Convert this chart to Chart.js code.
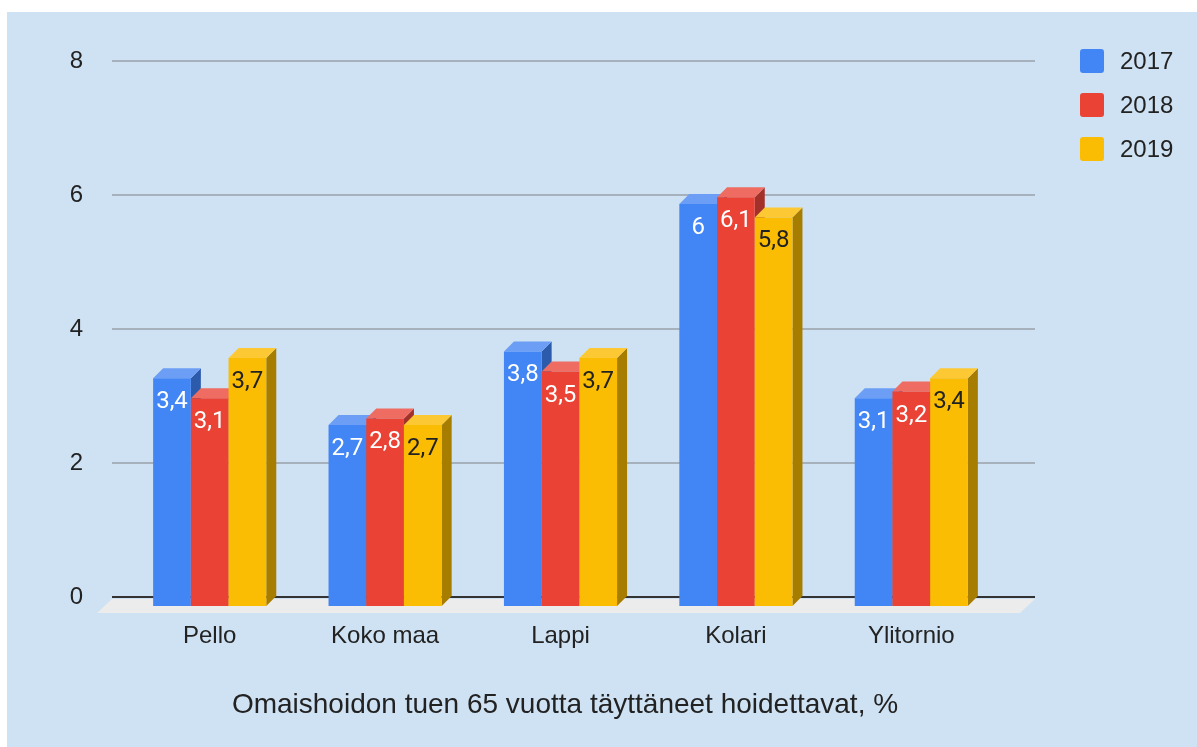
<!DOCTYPE html>
<html>
<head>
<meta charset="utf-8">
<script src="https://cdn.jsdelivr.net/npm/chart.js@4"></script>
<style>
  html, body { margin: 0; padding: 0; background: #fff; }
  #wrap { width: 1197px; height: 747px; }
</style>
</head>
<body>
<div id="wrap"><canvas id="chart" width="1197" height="747"></canvas></div>
<script>
// data
const categories = ['Pello', 'Koko maa', 'Lappi', 'Kolari', 'Ylitornio'];
const years = ['2017', '2018', '2019'];
const values2017 = [3.4, 2.7, 3.8, 6, 3.1];
const values2018 = [3.1, 2.8, 3.5, 6.1, 3.2];
const values2019 = [3.7, 2.7, 3.7, 5.8, 3.4];
const yTicks = [0, 2, 4, 6, 8];
const chartTitle = 'Omaishoidon tuen 65 vuotta täyttäneet hoidettavat, %';

// colours: front, top, side
const fronts = ['#4285f4', '#ea4335', '#fbbc04'];
const tops = ['#6c9ef6', '#ee6c61', '#fcc934'];
const sides = ['#2d5bab', '#a4302a', '#a77d00'];
const labelColors = ['#ffffff', '#ffffff', '#222222'];

const DY = 9;      // front plane shift
const DEPTH = 10;  // bar depth
const FONT = '"Liberation Sans", Arial, sans-serif';

const fmt = v => String(v).replace('.', ',');

const threeD = {
  id: 'threeD',
  beforeDraw(chart) {
    const ctx = chart.ctx;
    ctx.save();
    ctx.fillStyle = '#ffffff';
    ctx.fillRect(0, 0, chart.width, chart.height);
    ctx.fillStyle = '#cfe2f3';
    ctx.fillRect(7, 12, chart.width - 7, chart.height - 12);
    ctx.restore();
  },
  beforeDatasetsDraw(chart) {
    const ctx = chart.ctx;
    const a = chart.chartArea;
    const y = chart.scales.y;
    const x0 = a.left - 10, x1 = a.right + 36;
    const zero = y.getPixelForValue(0);
    ctx.save();
    // floor
    ctx.fillStyle = '#ececec';
    ctx.beginPath();
    ctx.moveTo(x0, zero + 2);
    ctx.lineTo(x1, zero + 2);
    ctx.lineTo(x1 - 15, zero + 16);
    ctx.lineTo(x0 - 15, zero + 16);
    ctx.closePath();
    ctx.fill();
    // grid
    yTicks.forEach(t => {
      const py = Math.round(y.getPixelForValue(t));
      ctx.strokeStyle = t === 0 ? '#333333' : '#a7b1bb';
      ctx.lineWidth = 2;
      ctx.beginPath();
      ctx.moveTo(x0, py);
      ctx.lineTo(x1, py);
      ctx.stroke();
    });
    ctx.restore();
  },
  // fronts are drawn below, in the right order with their 3D faces
  beforeDatasetDraw() {
    return false;
  },
  afterDatasetsDraw(chart) {
    const ctx = chart.ctx;
    ctx.save();
    ctx.translate(0, DY);
    chart.data.datasets.forEach((ds, i) => {
      chart.getDatasetMeta(i).data.forEach(bar => {
        const p = bar.getProps(['x', 'y', 'base', 'width'], true);
        const l = p.x - p.width / 2, r = p.x + p.width / 2;
        // side
        ctx.fillStyle = sides[i];
        ctx.beginPath();
        ctx.moveTo(r, p.y);
        ctx.lineTo(r + DEPTH, p.y - DEPTH);
        ctx.lineTo(r + DEPTH, p.base - DEPTH);
        ctx.lineTo(r, p.base);
        ctx.closePath();
        ctx.fill();
        // top
        ctx.fillStyle = tops[i];
        ctx.beginPath();
        ctx.moveTo(l, p.y);
        ctx.lineTo(l + DEPTH, p.y - DEPTH);
        ctx.lineTo(r + DEPTH, p.y - DEPTH);
        ctx.lineTo(r, p.y);
        ctx.closePath();
        ctx.fill();
        // front
        bar.draw(ctx, chart.chartArea);
      });
    });
    // value labels
    ctx.font = '24px Roboto';
    ctx.textAlign = 'center';
    ctx.textBaseline = 'middle';
    chart.data.datasets.forEach((ds, i) => {
      chart.getDatasetMeta(i).data.forEach((bar, j) => {
        const p = bar.getProps(['x', 'y'], true);
        ctx.fillStyle = labelColors[i];
        ctx.fillText(fmt(ds.data[j]), p.x, p.y + 24);
      });
    });
    ctx.restore();
  },
  afterDraw(chart) {
    const ctx = chart.ctx;
    ctx.save();
    // legend
    ctx.font = '24px ' + FONT;
    ctx.textBaseline = 'middle';
    ctx.textAlign = 'left';
    years.forEach((yr, i) => {
      const cy = 61 + i * 44;
      ctx.fillStyle = fronts[i];
      ctx.beginPath();
      ctx.roundRect(1080, cy - 12, 24, 24, 3);
      ctx.fill();
      ctx.fillStyle = '#222222';
      ctx.fillText(yr, 1120, cy + 1);
    });
    // title
    ctx.font = '28px ' + FONT;
    ctx.textAlign = 'center';
    ctx.fillText(chartTitle, 565, 705);
    ctx.restore();
  }
};

const datasets = [values2017, values2018, values2019].map((vals, i) => ({
  label: years[i],
  data: vals,
  backgroundColor: fronts[i],
  borderWidth: 0
}));

new Chart(document.getElementById('chart'), {
  type: 'bar',
  data: { labels: categories, datasets: datasets },
  options: {
    responsive: false,
    animation: false,
    categoryPercentage: 0.645,
    barPercentage: 1,
    layout: { padding: { left: 0, right: 198, top: 61, bottom: 0 } },
    plugins: {
      legend: { display: false },
      tooltip: { enabled: false }
    },
    scales: {
      x: {
        grid: { display: false, drawTicks: false },
        border: { display: false },
        ticks: {
          color: '#222222',
          padding: 25,
          font: { family: FONT, size: 24 }
        },
        afterFit: s => { s.height = 150; }
      },
      y: {
        min: 0,
        max: 8,
        grid: { display: false, drawTicks: false },
        border: { display: false },
        ticks: {
          stepSize: 2,
          color: '#222222',
          padding: 39,
          font: { family: FONT, size: 24 }
        },
        afterFit: s => { s.width = 122; }
      }
    }
  },
  plugins: [threeD]
});
</script>
</body>
</html>
